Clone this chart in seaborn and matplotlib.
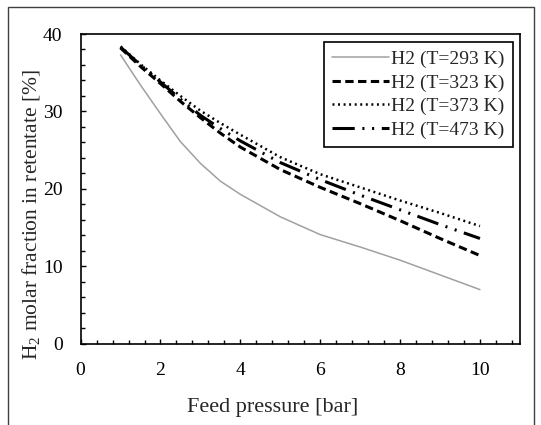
import matplotlib
matplotlib.use("Agg")
import matplotlib.pyplot as plt
from matplotlib.patches import Rectangle
from matplotlib.ticker import MultipleLocator
import seaborn as sns

# feed pressure [bar]
pressure = [1, 1.5, 2, 2.5, 3, 3.5, 4, 5, 6, 7, 8, 9, 10]

# H2 molar fraction in retentate [%]
h2_293 = [37.3, 33.4, 29.7, 26.1, 23.3, 21.0, 19.3, 16.4, 14.1, 12.5, 10.8, 8.9, 7.0]
h2_323 = [38.2, 35.8, 33.6, 31.3, 29.2, 27.2, 25.4, 22.5, 20.2, 18.1, 15.9, 13.6, 11.4]
h2_373 = [38.4, 36.1, 34.0, 32.0, 30.1, 28.5, 27.0, 24.1, 21.9, 20.2, 18.5, 16.9, 15.2]
h2_473 = [38.3, 36.0, 33.8, 31.6, 29.5, 27.8, 26.2, 23.4, 21.2, 19.2, 17.3, 15.4, 13.6]

labels = ["H2 (T=293 K)", "H2 (T=323 K)", "H2 (T=373 K)", "H2 (T=473 K)"]

sns.set_style("white")
plt.rcParams["font.family"] = ["Liberation Serif", "DejaVu Serif"]
plt.rcParams["mathtext.default"] = "regular"
plt.rcParams["lines.scale_dashes"] = False

fig = plt.figure(figsize=(5.41, 4.25), dpi=100)
ax = fig.add_axes([0.149, 0.191, 0.812, 0.729])

styles = [
    dict(color="#a0a0a0", linewidth=1.1, linestyle="-"),
    dict(color="black", linewidth=2.2, linestyle=(0, (6, 3.2))),
    dict(color="black", linewidth=1.8, linestyle=(0, (1.4, 2.6))),
    dict(color="black", linewidth=2.2, linestyle=(0, (16, 5.5, 1.5, 5.5, 1.5, 5.5))),
]
for y, lab, st in zip([h2_293, h2_323, h2_373, h2_473], labels, styles):
    sns.lineplot(x=pressure, y=y, ax=ax, label=lab, **st)

ax.set_xlim(0, 11)
ax.set_ylim(0, 40)
ax.xaxis.set_minor_locator(MultipleLocator(0.4))
ax.yaxis.set_major_locator(MultipleLocator(10))
ax.yaxis.set_minor_locator(MultipleLocator(2))
ax.set_xticks([0, 2, 4, 6, 8, 10])
ax.tick_params(which="both", direction="in", bottom=True, left=True,
               top=False, right=False, width=1, colors="black")
ax.tick_params(which="major", length=3.5, labelsize=14, pad=13)
ax.tick_params(which="minor", length=3)
for sp in ax.spines.values():
    sp.set_linewidth(1.2)
    sp.set_color("black")

# labels are centred on the whole figure, not on the axes
ax.set_xlabel("Feed pressure [bar]", fontsize=16, labelpad=14, x=0.438)
ax.set_ylabel("H$_2$ molar fraction in retentate [%]", fontsize=15.5,
              labelpad=0.5, y=0.416)

leg = ax.legend(loc="upper right", bbox_to_anchor=(0.984, 0.975),
                borderaxespad=0, fontsize=14, frameon=True, fancybox=False,
                framealpha=1, edgecolor="black", handlelength=2.9,
                handletextpad=0.1, labelspacing=0.3, borderpad=0.45)
leg.get_frame().set_linewidth(1.2)

fig.add_artist(Rectangle((7.5 / 541, -0.1), (534 - 7.5) / 541, 0.9824 + 0.1,
                         transform=fig.transFigure, fill=False,
                         edgecolor="#404040", linewidth=1))

fig.savefig("out.png", dpi=100)
